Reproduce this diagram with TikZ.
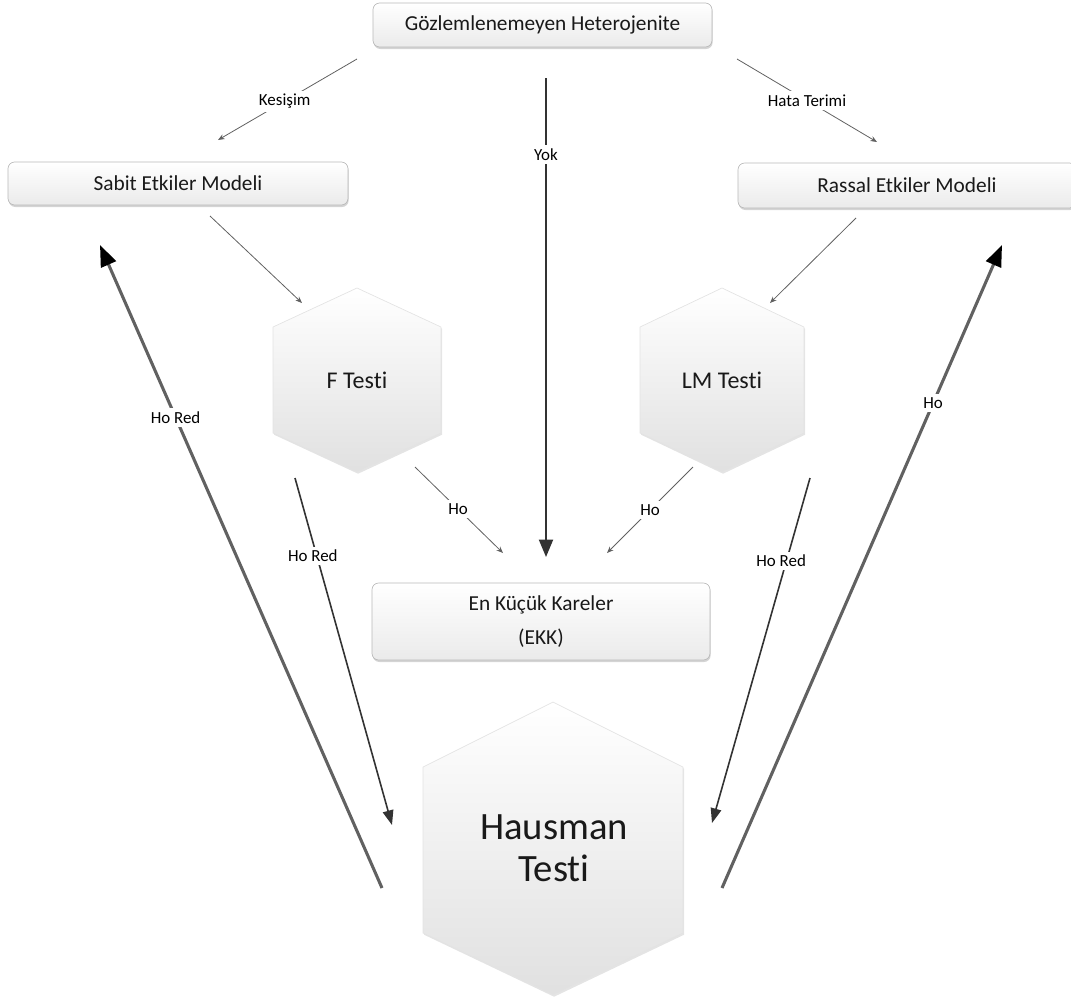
\documentclass[tikz,border=0pt]{standalone}
\usepackage{fontspec}
\setmainfont{Carlito}[Ligatures={NoCommon}]
\usetikzlibrary{arrows.meta,shadows}
\begin{document}
\begin{tikzpicture}[x=0.75pt,y=-0.75pt,
  box/.style={draw=gray!55, line width=0.5pt, rounded corners=5pt,
    top color=white, bottom color=gray!16,
    drop shadow={shadow xshift=0.5pt, shadow yshift=-1.5pt, opacity=0.45, fill=gray!75},
    font=\fontsize{16}{25}\selectfont, text=black!90, align=center, inner sep=0pt},
  hexa/.style={draw=gray!22, line width=0.5pt, top color=white, bottom color=gray!24,
    drop shadow={shadow xshift=0.8pt, shadow yshift=-1.3pt, opacity=0.3, fill=gray!70}},
  hextext/.style={font=\fontsize{18}{21}\selectfont, text=black!90},
  lbl/.style={fill=white, inner sep=2.5pt, font=\fontsize{12.7}{15}\selectfont, text=black},
  lightarrow/.style={draw=black!62, line width=0.6pt, -{Stealth[length=5pt,width=4pt]}},
  midarrow/.style={draw=black!80, line width=1.2pt, -{Triangle[length=11pt,width=8pt]}},
  yokarrow/.style={draw=black!80, line width=1.4pt, -{Triangle[length=13pt,width=10.5pt]}},
  bigarrow/.style={draw=black!62, line width=2.3pt, -{Triangle[length=16pt,width=12pt,color=black]}}
]
\useasboundingbox (0,0) rectangle (1071,1000);

% hexagonal test shapes
\path[hexa] (357,288) -- (441,327) -- (441,433) -- (357,472) -- (273,433) -- (273,327) -- cycle;
\path[hexa] (722,288) -- (804,327) -- (804,433) -- (722,472) -- (640,433) -- (640,327) -- cycle;
\path[hexa] (553,702) -- (683,767) -- (683,933) -- (553,995) -- (423,933) -- (423,767) -- cycle;

% rectangular model boxes
\node[box, minimum width=254.25pt, minimum height=33pt] (het) at (542.5,25) {Gözlemlenemeyen Heterojenite};
\node[box, minimum width=255pt, minimum height=32.25pt] (sabit) at (178,183.5) {Sabit Etkiler Modeli};
\node[box, minimum width=253.5pt, minimum height=33.75pt] (rassal) at (907,185.5) {Rassal Etkiler Modeli};
\node[box, minimum width=253.5pt, minimum height=57.75pt] (ekk) at (541,621.5) {En Küçük Kareler\\(EKK)};

% texts of the hexagons
\node[hextext] (ftest) at (357,380) {F Testi};
\node[hextext] (lmtest) at (722,380) {LM Testi};
\node[font=\fontsize{29}{31.5}\selectfont, text=black!90, align=center] (haus) at (554,848) {Hausman\\Testi};

% free ends of the connectors
\coordinate (kesA) at (357,59);   \coordinate (kesB) at (218,140);
\coordinate (hataA) at (737,59);  \coordinate (hataB) at (877,142);
\coordinate (yokA) at (546,78);   \coordinate (yokB) at (546,557);
\coordinate (sfA) at (210,216);   \coordinate (sfB) at (302,303);
\coordinate (rlA) at (856,218);   \coordinate (rlB) at (770,303);
\coordinate (fhoA) at (415,467);  \coordinate (fhoB) at (503,553);
\coordinate (lhoA) at (693,467);  \coordinate (lhoB) at (607,553);
\coordinate (fredA) at (295,478); \coordinate (fredB) at (392,825);
\coordinate (lredA) at (810,478); \coordinate (lredB) at (712,823);
\coordinate (hredA) at (382,888); \coordinate (hredB) at (100,245);
\coordinate (hhoA) at (722,888);  \coordinate (hhoB) at (1002,245);

% connectors
\draw[lightarrow] (kesA) -- node[lbl, pos=0.52] {Kesişim} (kesB);
\draw[lightarrow] (hataA) -- node[lbl, pos=0.5] {Hata Terimi} (hataB);
\draw[yokarrow] (yokA) -- node[lbl, pos=0.16] {Yok} (yokB);
\draw[lightarrow] (sfA) -- (sfB);
\draw[lightarrow] (rlA) -- (rlB);
\draw[lightarrow] (fhoA) -- node[lbl, pos=0.49] {Ho} (fhoB);
\draw[lightarrow] (lhoA) -- node[lbl, pos=0.5] {Ho} (lhoB);
\draw[midarrow] (fredA) -- node[lbl, pos=0.225, xshift=-3pt] {Ho Red} (fredB);
\draw[midarrow] (lredA) -- node[lbl, pos=0.24, xshift=-4pt] {Ho Red} (lredB);
\draw[bigarrow] (hredA) -- node[lbl, pos=0.732] {Ho Red} (hredB);
\draw[bigarrow] (hhoA) -- node[lbl, pos=0.754] {Ho} (hhoB);
\end{tikzpicture}
\end{document}
